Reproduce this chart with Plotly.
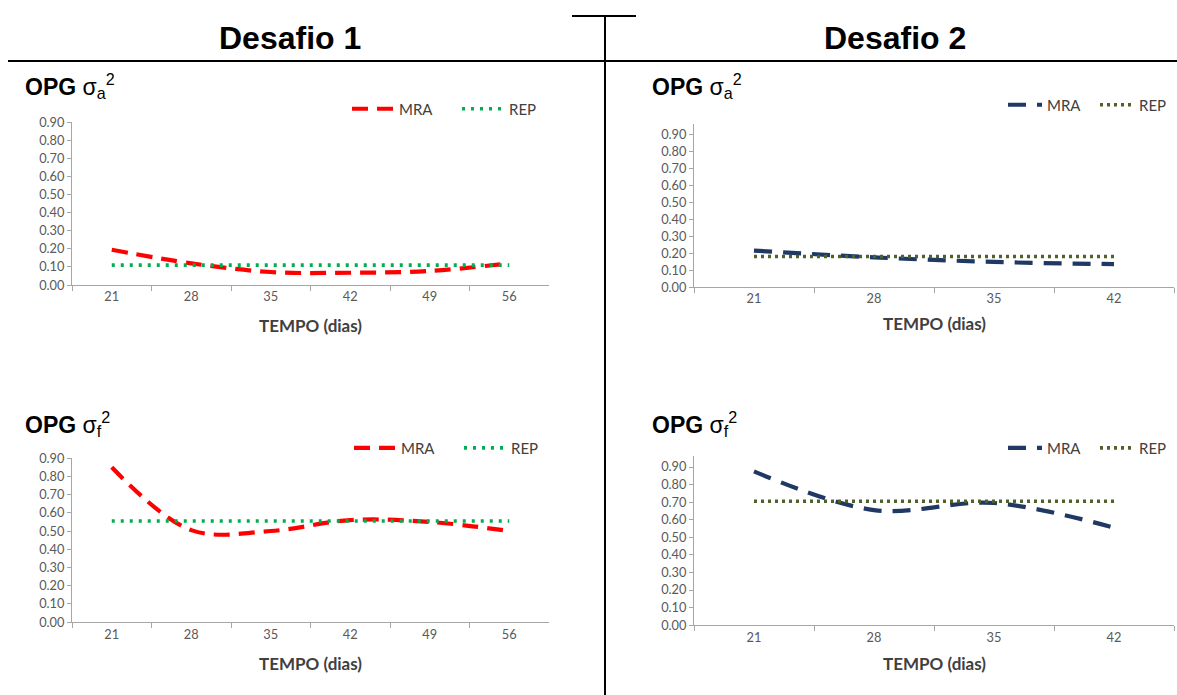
import plotly.graph_objects as go

# ---------------- data ----------------
days_d1 = ["21", "28", "35", "42", "49", "56"]
days_d2 = ["21", "28", "35", "42"]

mra_a_d1 = [0.195, 0.120, 0.072, 0.068, 0.078, 0.120]
rep_a_d1 = [0.11, 0.11, 0.11, 0.11, 0.11, 0.11]

mra_a_d2 = [0.215, 0.175, 0.148, 0.135]
rep_a_d2 = [0.18, 0.18, 0.18, 0.18]

mra_f_d1 = [0.850, 0.505, 0.500, 0.560, 0.550, 0.500]
rep_f_d1 = [0.555, 0.555, 0.555, 0.555, 0.555, 0.555]

mra_f_d2 = [0.875, 0.655, 0.695, 0.555]
rep_f_d2 = [0.705, 0.705, 0.705, 0.705]

y_ticks = [0.0, 0.1, 0.2, 0.3, 0.4, 0.5, 0.6, 0.7, 0.8, 0.9]

# calibration between reference pixels and page pixels (measured from renders)
SY, OY = 0.977, 8.0
W = 1222
H = int(round((695 - OY) / SY))


def fx(r):
    return r / W


def fy(r):
    return 1 - ((r - OY) / SY) / H


RED = "#FF0000"
GREEN = "#00B050"
NAVY = "#1F3864"
OLIVE = "#4F6228"
AXC = "#A6A6A6"
TXT = "#595959"

fig = go.Figure()

panels = [
    ("x", "y", "legend", days_d1, mra_a_d1, rep_a_d1, RED, GREEN, "16px,9px", "3px,6px"),
    ("x2", "y2", "legend2", days_d2, mra_a_d2, rep_a_d2, NAVY, OLIVE, "18px,11px", "3px,4px"),
    ("x3", "y3", "legend3", days_d1, mra_f_d1, rep_f_d1, RED, GREEN, "16px,9px", "3px,6px"),
    ("x4", "y4", "legend4", days_d2, mra_f_d2, rep_f_d2, NAVY, OLIVE, "18px,11px", "3px,4px"),
]

for xa, ya, lg, cats, mra, rep, cm, cr, dsh, dt in panels:
    fig.add_trace(go.Scatter(
        x=cats, y=mra, name="MRA", mode="lines", xaxis=xa, yaxis=ya, legend=lg,
        line=dict(color=cm, width=4.2, dash=dsh, shape="spline", smoothing=1.0),
        hoverinfo="skip"))
    fig.add_trace(go.Scatter(
        x=cats, y=rep, name="REP", mode="lines", xaxis=xa, yaxis=ya, legend=lg,
        line=dict(color=cr, width=3.6, dash=dt),
        hoverinfo="skip"))

geo = {
    "1": dict(x0=72, x1=549, yb=284, yt=121, ymax=0.9, n=6, fs=12.8),
    "2": dict(x0=694, x1=1174, yb=286, yt=123, ymax=0.96, n=4, fs=12.8),
    "3": dict(x0=72, x1=549, yb=621, yt=457, ymax=0.9, n=6, fs=12.8),
    "4": dict(x0=694, x1=1174, yb=624, yt=455, ymax=0.962, n=4, fs=12.8),
}

layout = {}
for k, g in geo.items():
    sfx = "" if k == "1" else k
    layout["xaxis" + sfx] = dict(
        type="category", domain=[fx(g["x0"]), fx(g["x1"])],
        anchor="y" + sfx, range=[-0.5, g["n"] - 0.5],
        showline=True, linecolor=AXC, linewidth=1,
        ticks="outside", tickson="boundaries", ticklen=5, tickcolor=AXC,
        showgrid=False, zeroline=False, fixedrange=True,
        tickfont=dict(family="Lato, Open Sans, sans-serif", size=g["fs"], color=TXT),
    )
    layout["yaxis" + sfx] = dict(
        domain=[fy(g["yb"]), fy(g["yt"])], anchor="x" + sfx,
        range=[0, g["ymax"]], tickvals=y_ticks, tickformat=".2f",
        showline=True, linecolor=AXC, linewidth=1,
        ticks="outside", ticklen=4, tickcolor=AXC,
        showgrid=False, zeroline=False, fixedrange=True,
        tickfont=dict(family="Lato, Open Sans, sans-serif", size=g["fs"], color=TXT),
    )

leg_font = dict(family="Lato, Open Sans, sans-serif", size=15, color="#404040")
# (sample start x, y, entry width, symbol width)
leg_pos = {
    "legend": (352, 108, 53, 42),
    "legend2": (1008, 104, 43, 34),
    "legend3": (354, 447, 53, 42),
    "legend4": (1008, 447, 43, 34),
}
for lg, (lx, ly, ew, iw) in leg_pos.items():
    layout[lg] = dict(
        x=fx(lx - 5), y=fy(ly), xanchor="left", yanchor="middle",
        orientation="h", font=leg_font, bgcolor="rgba(0,0,0,0)",
        borderwidth=0, entrywidth=ew, entrywidthmode="pixels", itemwidth=iw,
        itemclick=False, itemdoubleclick=False, tracegroupgap=0,
    )

ann = []
ttl_font = dict(family="Liberation Sans, Arial, sans-serif", size=32, color="black")
ann.append(dict(text="<b>Desafio 1</b>", x=fx(290), y=fy(37), xref="paper", yref="paper",
                showarrow=False, font=ttl_font, xanchor="center", yanchor="middle"))
ann.append(dict(text="<b>Desafio 2</b>", x=fx(895), y=fy(37), xref="paper", yref="paper",
                showarrow=False, font=ttl_font, xanchor="center", yanchor="middle"))

opg_font = dict(family="Liberation Sans, Arial, sans-serif", size=23, color="black")
for (tx, ty, sub) in [(23, 85, "a"), (650, 85, "a"), (23, 423, "f"), (650, 423, "f")]:
    ann.append(dict(text="<b>OPG</b> σ<sub>%s</sub><sup>2</sup>" % sub,
                    x=fx(tx), y=fy(ty), xref="paper", yref="paper",
                    showarrow=False, font=opg_font, xanchor="left", yanchor="middle"))

tempo_font = dict(family="Lato, Open Sans, sans-serif", size=17, color="#404040")
for (tx, ty) in [(310, 324), (934, 322), (310, 662), (934, 662)]:
    ann.append(dict(text="<b>TEMPO (dias)</b>", x=fx(tx), y=fy(ty), xref="paper", yref="paper",
                    showarrow=False, font=tempo_font, xanchor="center", yanchor="middle"))

shapes = [
    dict(type="line", xref="paper", yref="paper", x0=fx(8), x1=1.0, y0=fy(60), y1=fy(60),
         line=dict(color="black", width=2)),
    dict(type="line", xref="paper", yref="paper", x0=fx(605), x1=fx(605), y0=fy(15), y1=0.0,
         line=dict(color="black", width=2)),
    dict(type="line", xref="paper", yref="paper", x0=fx(572), x1=fx(636), y0=fy(15), y1=fy(15),
         line=dict(color="black", width=2)),
]

fig.update_layout(
    width=W, height=H, autosize=False,
    margin=dict(l=0, r=0, t=0, b=0),
    paper_bgcolor="white", plot_bgcolor="white",
    annotations=ann, shapes=shapes,
    **layout,
)

post = (
    "document.documentElement.style.margin='0';"
    "document.documentElement.style.overflow='hidden';"
    "document.body.style.margin='0';"
    "document.body.style.overflow='hidden';"
    "var gd=document.getElementById('{plot_id}');"
    "gd.style.position='fixed';gd.style.left='0px';gd.style.top='0px';"
)

fig.write_html("out.html", config={"displayModeBar": False}, post_script=post)
